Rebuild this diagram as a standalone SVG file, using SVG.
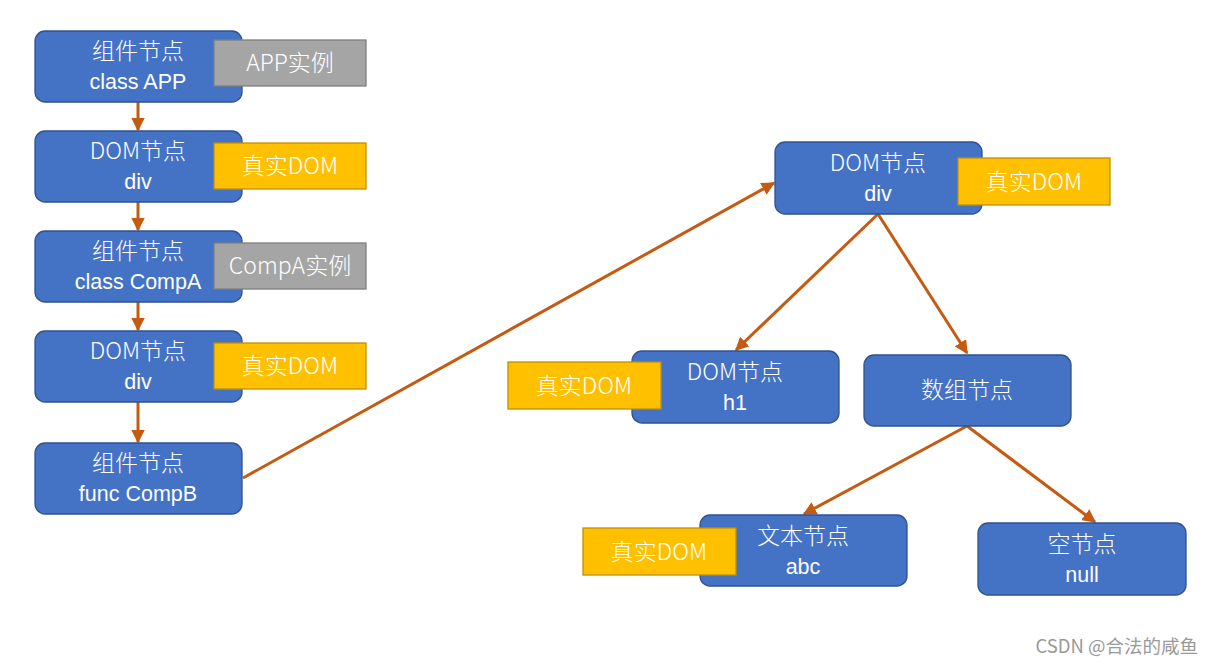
<svg xmlns="http://www.w3.org/2000/svg" width="1214" height="665" viewBox="0 0 1214 665">
<style>
.node{fill:#4472C4;stroke:#2F528F;stroke-width:1.3}
.gray{fill:#A5A5A5;stroke:#7F7F7F;stroke-width:1.3}
.yel{fill:#FFC000;stroke:#BF9000;stroke-width:1.3}
text{font-family:"Microsoft YaHei","Noto Sans CJK SC","Noto Sans",sans-serif;font-size:23px;font-weight:300;fill:#fff;text-anchor:middle}
text.s{font-family:"Liberation Sans",Arial,sans-serif;font-weight:400;font-size:21.5px}
.wm{fill:#999;font-size:18.5px;font-weight:400;text-anchor:end}
.c{stroke:#C55A11;stroke-width:3;fill:none;marker-end:url(#a)}
</style>
<defs>
<marker id="a" viewBox="0 0 10 10" refX="9" refY="5" markerWidth="4.5" markerHeight="4.5" orient="auto" markerUnits="strokeWidth">
<path d="M0,0 L10,5 L0,10 Z" fill="#C55A11"/>
</marker>
</defs>
<rect width="1214" height="665" fill="#fff"/>
<g id="connectors">
<line class="c" x1="138" y1="102" x2="138" y2="130"/>
<line class="c" x1="138" y1="202" x2="138" y2="230"/>
<line class="c" x1="138" y1="302" x2="138" y2="330"/>
<line class="c" x1="138" y1="402" x2="138" y2="442"/>
<line class="c" x1="243" y1="478" x2="774" y2="183"/>
<line class="c" x1="878" y1="214" x2="736" y2="350"/>
<line class="c" x1="878" y1="214" x2="967" y2="353"/>
<line class="c" x1="967" y1="426" x2="804" y2="514"/>
<line class="c" x1="967" y1="426" x2="1095" y2="522"/>
</g>
<g id="n1"><rect class="node" x="35" y="31" width="207" height="71" rx="10"/><text x="138" y="59">组件节点</text><text class="s" x="138" y="89">class APP</text></g>
<g id="l1"><rect class="gray" x="214" y="40" width="152" height="46"/><text x="290" y="71">APP实例</text></g>
<g id="n2"><rect class="node" x="35" y="131" width="207" height="71" rx="10"/><text x="138" y="159">DOM节点</text><text class="s" x="138" y="189">div</text></g>
<g id="l2"><rect class="yel" x="214" y="143" width="152" height="46"/><text x="290" y="174">真实DOM</text></g>
<g id="n3"><rect class="node" x="35" y="231" width="207" height="71" rx="10"/><text x="138" y="259">组件节点</text><text class="s" x="138" y="289">class CompA</text></g>
<g id="l3"><rect class="gray" x="214" y="243" width="152" height="46"/><text x="290" y="274">CompA实例</text></g>
<g id="n4"><rect class="node" x="35" y="331" width="207" height="71" rx="10"/><text x="138" y="359">DOM节点</text><text class="s" x="138" y="389">div</text></g>
<g id="l4"><rect class="yel" x="214" y="343" width="152" height="46"/><text x="290" y="374">真实DOM</text></g>
<g id="n5"><rect class="node" x="35" y="443" width="207" height="71" rx="10"/><text x="138" y="471">组件节点</text><text class="s" x="138" y="501">func CompB</text></g>
<g id="n6"><rect class="node" x="775" y="142" width="207" height="72" rx="10"/><text x="878" y="171">DOM节点</text><text class="s" x="878" y="201">div</text></g>
<g id="l6"><rect class="yel" x="958" y="158" width="152" height="47"/><text x="1034" y="190">真实DOM</text></g>
<g id="n7"><rect class="node" x="632" y="351" width="207" height="72" rx="10"/><text x="735" y="380">DOM节点</text><text class="s" x="735" y="410">h1</text></g>
<g id="l7"><rect class="yel" x="508" y="362" width="153" height="47"/><text x="584" y="394">真实DOM</text></g>
<g id="n8"><rect class="node" x="864" y="355" width="207" height="71" rx="10"/><text x="967" y="398">数组节点</text></g>
<g id="n9"><rect class="node" x="700" y="515" width="207" height="71" rx="10"/><text x="803" y="544">文本节点</text><text class="s" x="803" y="574">abc</text></g>
<g id="l9"><rect class="yel" x="583" y="528" width="153" height="47"/><text x="659" y="560">真实DOM</text></g>
<g id="n10"><rect class="node" x="978" y="523" width="208" height="72" rx="10"/><text x="1082" y="552">空节点</text><text class="s" x="1082" y="582">null</text></g>
<text class="wm" x="1198" y="653">CSDN @合法的咸鱼</text>
</svg>
